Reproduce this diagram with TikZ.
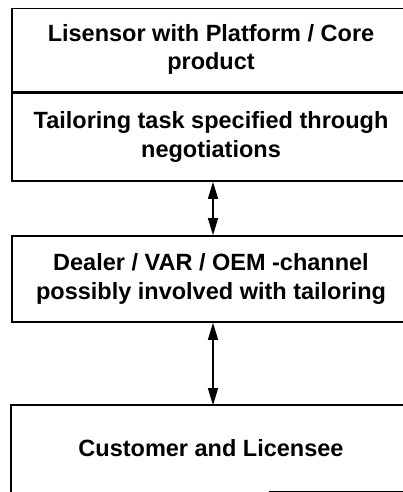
\documentclass[tikz,border=0pt]{standalone}
\usepackage{fontspec}
\setmainfont{Liberation Sans}
\usetikzlibrary{arrows.meta}
\begin{document}
\begin{tikzpicture}[x=1pt,y=-1pt,
  frame/.style={draw,line width=1.6pt,minimum width=398pt,inner sep=0pt,
    align=center,font=\fontsize{23.5}{28.5}\selectfont\bfseries},
  tip/.style={Triangle[width=10pt,length=17pt]},
  link/.style={line width=1.3pt,{Triangle[width=10pt,length=17pt]}-{Triangle[width=10pt,length=17pt]}}]
\useasboundingbox (0,0) rectangle (403,492);
% stacked licensor box: product part and tailoring part
\node[frame,minimum height=83pt] (lic) at (211,50) {\raisebox{-2pt}{\begin{tabular}{@{}c@{}}Lisensor with Platform / Core\\product\end{tabular}}};
\node[frame,minimum height=88pt,anchor=north] (tail) at (lic.south) {\raisebox{3pt}{\begin{tabular}{@{}c@{}}Tailoring task specified through\\negotiations\end{tabular}}};
% channel box
\node[frame,minimum height=86pt] (deal) at (211,279) {Dealer / VAR / OEM -channel\\possibly involved with tailoring};
% customer box, its lower edge only partly printed
\node[frame,draw=none,minimum height=85pt] (cust) at (211,448.5) {Customer and Licensee};
\draw[line width=1.6pt] (cust.south west) -- (cust.north west) -- (cust.north east);
\draw[line width=1.6pt] ([xshift=258pt]cust.south west) -- (cust.south east);
% two-way links
\draw[link] (tail.south -| 213,0) -- (deal.north -| 213,0);
\draw[link] (deal.south -| 213,0) -- (cust.north -| 213,0);
\end{tikzpicture}
\end{document}
